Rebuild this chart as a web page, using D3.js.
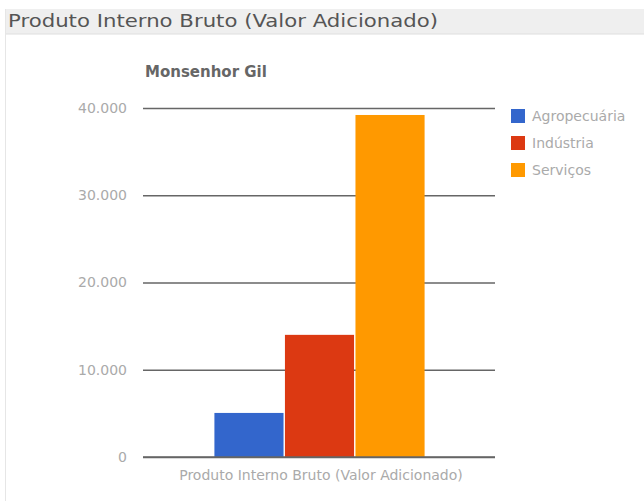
<!DOCTYPE html>
<html>
<head>
<meta charset="utf-8">
<script src="https://cdn.jsdelivr.net/npm/d3@7"></script>
<style>
  body { margin: 0; background: #fff; }
  #chart { width: 644px; height: 501px; }
</style>
</head>
<body>
<div id="chart"></div>
<script>
// PIB (valor adicionado) - Monsenhor Gil
var panelTitle = "Produto Interno Bruto (Valor Adicionado)";
var chartTitle = "Monsenhor Gil";
var category = "Produto Interno Bruto (Valor Adicionado)";
var seriesNames = ["Agropecuária", "Indústria", "Serviços"];
var seriesValues = [5050, 14000, 39200];
var seriesColors = ["#3366cc", "#dc3912", "#ff9900"];
var yTicks = [0, 10000, 20000, 30000, 40000];

var width = 644, height = 501;
var plot = {left: 143, right: 495, top: 108, bottom: 457};
var font = "'DejaVu Sans', Verdana, sans-serif";

var svg = d3.select("#chart").append("svg")
    .attr("width", width)
    .attr("height", height)
    .style("font-family", font);

// panel header + left border
svg.append("rect")
    .attr("x", 5).attr("y", 9)
    .attr("width", width - 5).attr("height", 25)
    .attr("fill", "#efefef");
svg.append("line")
    .attr("x1", 5).attr("x2", width)
    .attr("y1", 34).attr("y2", 34)
    .attr("stroke", "#dedede");
svg.append("line")
    .attr("x1", 5.5).attr("x2", 5.5)
    .attr("y1", 9).attr("y2", height)
    .attr("stroke", "#e6e6e6");
svg.append("text")
    .attr("x", 8).attr("y", 27)
    .attr("font-size", "17px")
    .attr("fill", "#555")
    .attr("textLength", 430)
    .attr("lengthAdjust", "spacingAndGlyphs")
    .text(panelTitle);

var yScale = d3.scaleLinear()
    .domain([0, 40000])
    .range([plot.bottom, plot.top]);

var x1 = d3.scaleBand()
    .domain(seriesNames)
    .range([213, 426])
    .padding(0.02);

var fmt = function (v) {
    return d3.format(",")(v).replace(/,/g, ".");
};

// gridlines
var yAxis = svg.append("g")
    .attr("transform", "translate(" + plot.left + ",0)")
    .call(d3.axisLeft(yScale)
        .tickValues(yTicks)
        .tickSize(-(plot.right - plot.left))
        .tickPadding(16)
        .tickFormat(fmt));
yAxis.select(".domain").remove();
yAxis.selectAll(".tick line")
    .attr("stroke", "#666")
    .attr("stroke-width", 1.5);
yAxis.selectAll(".tick text")
    .attr("fill", "#aaa")
    .attr("font-size", "14px")
    .attr("font-family", font);

// bars
svg.selectAll(".bar")
    .data(seriesValues)
    .enter()
    .append("rect")
    .attr("class", "bar")
    .attr("x", function (d, i) { return x1(seriesNames[i]); })
    .attr("width", x1.bandwidth())
    .attr("y", function (d) { return yScale(d); })
    .attr("height", function (d) { return yScale(0) - yScale(d); })
    .attr("fill", function (d, i) { return seriesColors[i]; });

// baseline on top of bars
svg.append("line")
    .attr("x1", plot.left).attr("x2", plot.right)
    .attr("y1", yScale(0)).attr("y2", yScale(0))
    .attr("stroke", "#666")
    .attr("stroke-width", 1.5);

// category label
svg.append("text")
    .attr("x", 321)
    .attr("y", 480)
    .attr("text-anchor", "middle")
    .attr("font-size", "14px")
    .attr("fill", "#aaa")
    .text(category);

// chart title
svg.append("text")
    .attr("x", 145).attr("y", 77)
    .attr("font-size", "15px")
    .attr("font-weight", "bold")
    .attr("fill", "#666")
    .text(chartTitle);

// legend
var legend = svg.selectAll(".legend")
    .data(seriesNames)
    .enter()
    .append("g")
    .attr("class", "legend")
    .attr("transform", function (d, i) { return "translate(511," + (109 + i * 27) + ")"; });
legend.append("rect")
    .attr("width", 14).attr("height", 14)
    .attr("fill", function (d, i) { return seriesColors[i]; });
legend.append("text")
    .attr("x", 21).attr("y", 12)
    .attr("font-size", "14px")
    .attr("fill", "#aaa")
    .text(function (d) { return d; });
</script>
</body>
</html>
